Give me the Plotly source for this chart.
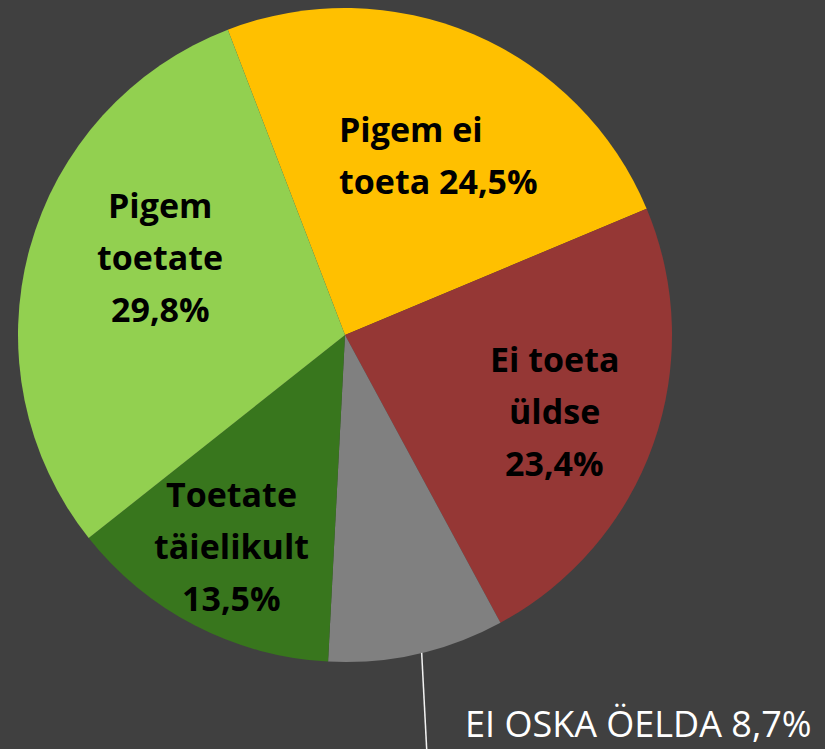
import math
import plotly.graph_objects as go

# ---- data ----
labels = ["Pigem ei toeta", "Ei toeta üldse", "EI OSKA ÖELDA", "Toetate täielikult", "Pigem toetate"]
values = [24.5, 23.4, 8.7, 13.5, 29.8]
label_lines = [
    ["Pigem ei", "toeta 24,5%"],
    ["Ei toeta", "üldse", "23,4%"],
    ["EI OSKA ÖELDA 8,7%"],
    ["Toetate", "täielikult", "13,5%"],
    ["Pigem", "toetate", "29,8%"],
]
colors = ["#FFC000", "#953735", "#808080", "#38761D", "#92D050"]

# ---- layout config ----
W, H = 825, 749
BG = "#404040"
cx_px, cy_px, R = 345, 335, 327
rotation = -21
# label placement: (radius fraction, angle offset from slice mid in degrees)
label_place = [(0.631, 6.2), (0.682, 0.4), None, (0.733, 1.1), (0.613, 7.6)]
# horizontal alignment of label lines (half block width for left-aligned)
label_align = ["left", "center", None, "center", "center"]
left_halfwidth = 109
line_gap = 52
leader_angle_offset = -0.85
FONT = "Open Sans"

dom_x = [(cx_px - R) / W, (cx_px + R) / W]
dom_y = [1 - (cy_px + R) / H, 1 - (cy_px - R) / H]

fig = go.Figure(go.Pie(
    labels=labels, values=values, sort=False, direction="clockwise",
    rotation=rotation, textinfo="none", hoverinfo="skip",
    marker=dict(colors=colors, line=dict(width=0)),
    domain=dict(x=dom_x, y=dom_y), showlegend=False,
))

total = sum(values)
annotations = []
shapes = []
acc = rotation
for i, v in enumerate(values):
    span = v / total * 360
    mid = acc + span / 2
    acc += span
    if label_place[i] is not None:
        rf, off = label_place[i]
        a = math.radians(mid + off)
        r = rf * R
        lx = cx_px + r * math.sin(a)
        ly = cy_px - r * math.cos(a)
        n = len(label_lines[i])
        if label_align[i] == "left":
            xa, xx = "left", lx - left_halfwidth
        else:
            xa, xx = "center", lx
        for j, t in enumerate(label_lines[i]):
            yy = ly + (j - (n - 1) / 2) * line_gap
            annotations.append(dict(
                x=xx / W, y=1 - yy / H, xref="paper", yref="paper",
                text="<b>" + t + "</b>", showarrow=False,
                font=dict(family=FONT, size=34, color="black", weight=800),
                xanchor=xa, yanchor="middle"))
    else:
        # outside label with leader line from the slice edge
        a = math.radians(mid + leader_angle_offset)
        sx = cx_px + R * math.sin(a)
        sy = cy_px - R * math.cos(a)
        ex, ey = sx + 5, H
        shapes.append(dict(type="line", xref="paper", yref="paper",
                           x0=sx / W, y0=1 - sy / H, x1=ex / W, y1=1 - ey / H,
                           line=dict(color="#F2F2F2", width=1.5)))
        annotations.append(dict(
            x=638 / W, y=0, xref="paper", yref="paper",
            text=label_lines[i][0], showarrow=False, borderpad=0,
            font=dict(family=FONT, size=36, color="white"),
            xanchor="center", yanchor="bottom"))

fig.update_layout(
    width=W, height=H, margin=dict(l=0, r=0, t=0, b=0),
    paper_bgcolor=BG, plot_bgcolor=BG,
    annotations=annotations, shapes=shapes,
)
fig.write_html(
    "out.html",
    config={"displayModeBar": False},
    post_script="document.body.style.margin='0';document.body.style.overflow='hidden';",
)
